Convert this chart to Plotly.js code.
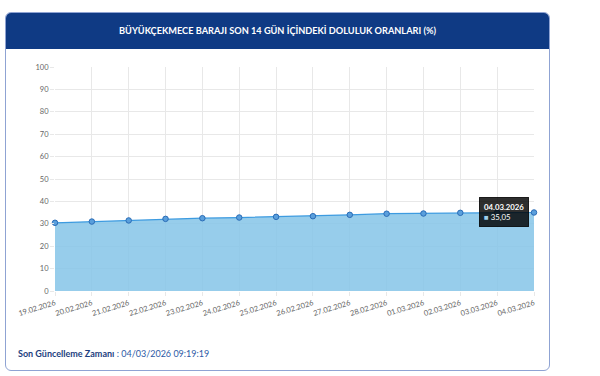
<!DOCTYPE html>
<html><head><meta charset="utf-8">
<script src="https://cdn.plot.ly/plotly-3.0.1.min.js"></script>
<style>
html,body{margin:0;padding:0;width:600px;height:376px;background:#fff;overflow:hidden;font-family:Lato,"Open Sans",sans-serif;}
#card{position:absolute;left:5px;top:12px;width:545px;height:359px;border:1px solid #8fa3d3;border-radius:6px;box-sizing:border-box;overflow:hidden;}
#hdr{position:absolute;left:0;top:0;right:0;height:36px;background:#0f3a84;color:#fff;font-weight:bold;font-size:9.2px;text-align:center;line-height:36px;letter-spacing:0;}
#foot{position:absolute;left:12px;top:335px;font-size:9px;color:#2d5aa6;}
#foot b{color:#1d3f80;}
#plot{position:absolute;left:0;top:0;width:600px;height:376px;}
</style></head><body>
<div id="card"><div id="hdr">BÜYÜKÇEKMECE BARAJI SON 14 GÜN İÇİNDEKİ DOLULUK ORANLARI (%)</div>
<div id="foot"><b>Son Güncelleme Zamanı</b> : 04/03/2026 09:19:19</div></div>
<div id="plot"></div>
<script>
const dates = ["19.02.2026","20.02.2026","21.02.2026","22.02.2026","23.02.2026","24.02.2026","25.02.2026","26.02.2026","27.02.2026","28.02.2026","01.03.2026","02.03.2026","03.03.2026","04.03.2026"];
const fillRates = [30.45,31.0,31.5,32.2,32.5,32.8,33.1,33.4,34.0,34.5,34.6,34.9,35.0,35.05];
const yTicks = [0,10,20,30,40,50,60,70,80,90,100];
const tipIndex = dates.length - 1;

const trace = {
  x: dates, y: fillRates, type: 'scatter', mode: 'lines+markers',
  fill: 'tozeroy', fillcolor: 'rgba(133,196,231,0.85)',
  line: {color: '#3d9be0', width: 1.2},
  marker: {size: 5.5, color: '#5a9fdc', line: {color: '#2a6cb6', width: 1}},
  cliponaxis: false, hoverinfo: 'skip'
};
const tipText = '<b>' + dates[tipIndex] + '</b><br><span style="color:#9fd0ef">■</span> ' + fillRates[tipIndex].toFixed(2).replace('.', ',');
const layout = {
  width: 600, height: 376,
  margin: {l: 55, r: 66, t: 67, b: 84.5},
  paper_bgcolor: 'rgba(0,0,0,0)', plot_bgcolor: 'rgba(0,0,0,0)',
  showlegend: false,
  font: {family: 'Lato, "Open Sans", sans-serif', color: '#666', size: 8},
  xaxis: {type: 'category', range: [0, dates.length - 1], showgrid: true, gridcolor: '#e8e8e8',
    zeroline: false, showline: false, ticks: 'outside', ticklen: 4, tickcolor: '#e8e8e8',
    tickangle: -17, tickfont: {size: 7.5, color: '#666'}},
  yaxis: {range: [0, 100], tickvals: yTicks, showgrid: true, gridcolor: '#e8e8e8',
    zeroline: false, showline: false, ticks: 'outside', ticklen: 4, tickcolor: '#e8e8e8',
    tickfont: {size: 7.5, color: '#666'}},
  annotations: [{
    xref: 'x', yref: 'y', x: tipIndex, y: fillRates[tipIndex], xanchor: 'right', yanchor: 'middle',
    xshift: -5, showarrow: false, text: tipText, align: 'left',
    bgcolor: 'rgba(0,0,0,0.82)', bordercolor: 'rgba(0,0,0,0.82)', borderpad: 4,
    font: {color: '#fff', size: 7.8, family: 'Lato, "Open Sans", sans-serif'}
  }]
};
Plotly.newPlot('plot', [trace], layout, {displayModeBar: false, staticPlot: true});
</script></body></html>
